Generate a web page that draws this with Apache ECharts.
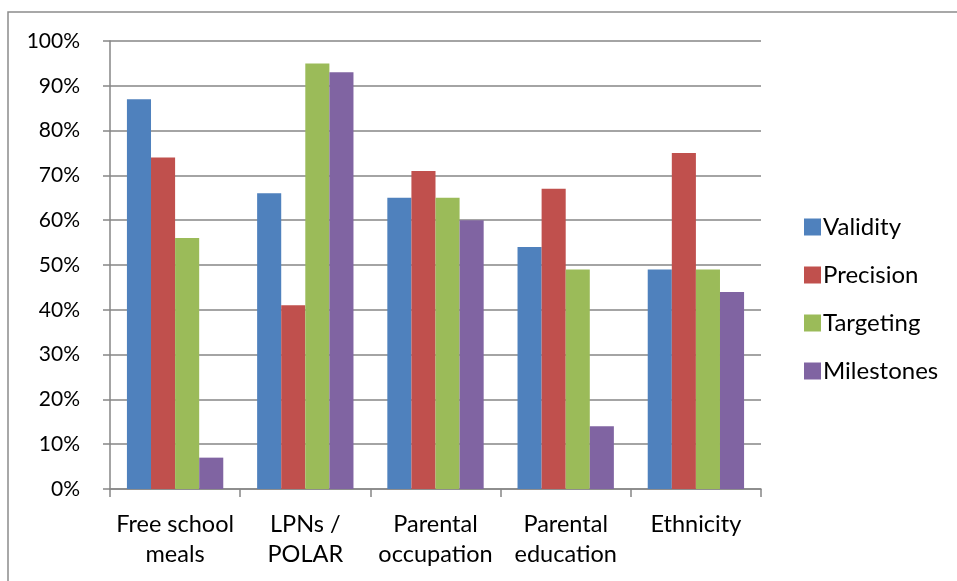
<!DOCTYPE html>
<html><head><meta charset="utf-8">
<script src="https://cdn.jsdelivr.net/npm/echarts@6/dist/echarts.min.js"></script>
<style>html,body{margin:0;padding:0;background:#fff}#c{width:957px;height:581px}</style>
</head><body><div id="c"></div>
<script>
const categories = ['Free school\nmeals', 'LPNs /\nPOLAR', 'Parental\noccupation', 'Parental\neducation', 'Ethnicity'];
const validity = [87, 66, 65, 54, 49];
const precision = [74, 41, 71, 67, 75];
const targeting = [56, 95, 65, 49, 49];
const milestones = [7, 93, 60, 14, 44];
const seriesNames = ['Validity', 'Precision', 'Targeting', 'Milestones'];
const colors = ['#4F81BD', '#C0504D', '#9BBB59', '#8064A2'];
const yTicks = [0, 10, 20, 30, 40, 50, 60, 70, 80, 90, 100];

const font = 'Lato, "Open Sans", sans-serif';
const chart = echarts.init(document.getElementById('c'));
const data = [validity, precision, targeting, milestones];
chart.setOption({
  animation: false,
  color: colors,
  graphic: [{type: 'rect', shape: {x: 8, y: 12, width: 1000, height: 700}, style: {fill: 'none', stroke: '#8c8c8c', lineWidth: 1.5}, z: -1}],
  grid: {left: 110, right: 196, top: 41, bottom: 92, containLabel: false},
  legend: {
    orient: 'vertical', left: 799, top: 210, itemWidth: 17, itemHeight: 17, itemGap: 24,
    icon: 'rect', textStyle: {fontFamily: font, fontSize: 24, color: '#000', padding: [0, 0, 0, -3]},
    data: seriesNames
  },
  xAxis: {
    type: 'category', data: categories,
    axisLine: {lineStyle: {color: '#868686', width: 1.5}},
    axisTick: {show: true, interval: 0, length: 8, lineStyle: {color: '#868686', width: 1.5}},
    axisLabel: {interval: 0, fontFamily: font, fontSize: 23.5, color: '#000', margin: 20, lineHeight: 30}
  },
  yAxis: {
    type: 'value', min: 0, max: 100, interval: 10,
    axisLine: {show: true, lineStyle: {color: '#868686', width: 1.5}},
    axisTick: {show: true, length: 7, lineStyle: {color: '#868686', width: 1.5}},
    splitLine: {lineStyle: {color: '#868686', width: 1.5}},
    axisLabel: {fontFamily: font, fontSize: 21, color: '#000', margin: 30, formatter: v => yTicks.includes(v) ? v + '%' : ''}
  },
  series: seriesNames.map((n, i) => ({
    name: n, type: 'bar', data: data[i], barGap: '0%', barCategoryGap: '26%'
  }))
});
</script></body></html>
